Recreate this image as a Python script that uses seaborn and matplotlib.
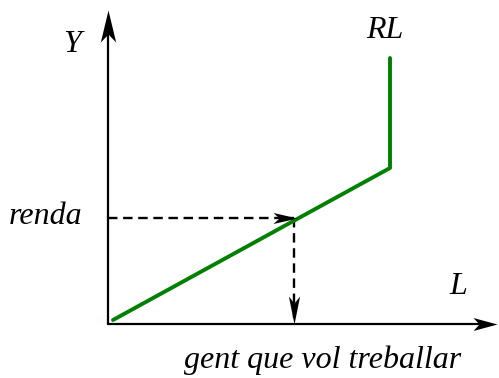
import numpy as np
import matplotlib
matplotlib.use('Agg')
import matplotlib.pyplot as plt
import seaborn as sns

# dades de la corba RL (unitats del diagrama, origen a la creu dels eixos)
rl_x = [5, 282, 282]
rl_y = [4, 156, 266]
# nivell de renda i gent que vol treballar
renda = 106
gent = 186

sns.set_style('white')
plt.rcParams['font.family'] = ['Liberation Serif', 'DejaVu Serif']

fig = plt.figure(figsize=(4.99, 3.78), dpi=100)
ax = fig.add_axes([0, 0, 1, 1])
ax.set_xlim(-108, 391)
ax.set_ylim(-54, 324)
ax.axis('off')


def fletxa(x, y, angle, llarg, ample=0.25, osca=0.75):
    # punta tipus "stealth": vertex a (0,0), apuntant en direccio angle
    v = np.array([[0, 0], [-1, ample], [-osca, 0], [-1, -ample], [0, 0]])
    a = np.deg2rad(angle)
    r = np.array([[np.cos(a), -np.sin(a)], [np.sin(a), np.cos(a)]])
    v = v @ r.T
    ax.plot([x], [y], marker=v, markersize=2 * llarg / 1.389,
            color='black', markeredgewidth=0, linestyle='none', zorder=5)


# eixos
ax.plot([0, 0], [0, 300], color='black', lw=1.6)
ax.plot([0, 380], [0, 0], color='black', lw=1.6)
fletxa(0, 314, 90, 32, ample=0.24)
fletxa(389, 0, 0, 24, ample=0.27)

# linies discontinues
ax.plot([0, gent], [renda, renda], color='black', lw=1.7, ls=(0, (4, 2.4)))
ax.plot([gent, gent], [renda, 4], color='black', lw=1.7, ls=(0, (4, 2.4)))
fletxa(gent + 3, renda, 0, 24, ample=0.23)
fletxa(gent, 0, -90, 28, ample=0.2)

# corba RL
sns.lineplot(x=rl_x, y=rl_y, sort=False, estimator=None, color='green',
             lw=2.8, ax=ax, zorder=4)

txt = dict(style='italic', fontsize=23, color='black')
ax.text(-36, 279, 'Y', ha='center', va='center', **txt)
ax.text(277, 294, 'RL', ha='center', va='center', **txt)
ax.text(-62, 108, 'renda', ha='center', va='center', **txt)
ax.text(350, 38, 'L', ha='center', va='center', **txt)
ax.text(215, -36, 'gent que vol treballar', ha='center', va='center', **txt)

fig.savefig('out.png', dpi=100)
